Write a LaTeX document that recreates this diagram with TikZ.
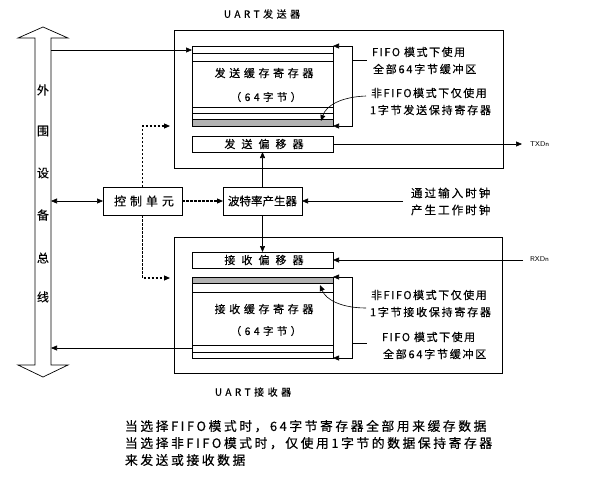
\documentclass[tikz,border=0pt]{standalone}
\usepackage{fontspec}
\newfontfamily\cjk[FakeBold=0.35]{Noto Sans CJK SC}
\usetikzlibrary{arrows.meta}
\tikzset{
  box/.style={draw, line width=0.8pt, inner sep=0pt, outer sep=0pt, anchor=north west},
  arr/.style={-{Triangle[length=6pt,width=5pt]}, line width=0.6pt},
  arrboth/.style={{Triangle[length=6pt,width=5pt]}-{Triangle[length=6pt,width=5pt]}, line width=0.6pt},
  dasharr/.style={-{Triangle[length=6pt,width=5pt]}, line width=1.1pt, dash pattern=on 2.5pt off 1.5pt},
  thin/.style={line width=0.6pt},
  lbl/.style={inner sep=0pt, outer sep=0pt},
}
\newcommand{\ls}[1]{\addfontfeature{LetterSpace=#1}}
\begin{document}
\begin{tikzpicture}[x=1pt,y=-1pt]
\useasboundingbox (0,0) rectangle (591,485);
% ---------- peripheral bus (hollow double arrow)
\draw[line width=0.7pt] (43,27) -- (68,38) -- (51,38) -- (51,365) -- (68,365) -- (43,377)
   -- (18,365) -- (35,365) -- (35,38) -- (18,38) -- cycle;
\foreach \t/\y [count=\i] in {外/90,围/131,设/173,备/215,总/258,线/297}
  \node[lbl, font=\cjk\fontsize{12}{12}\selectfont] (bus\i) at (43,\y) {\t};
\coordinate (busA) at (51,50);
\coordinate (busB) at (51,201);
\coordinate (busC) at (51,348);

% ---------- transmitter
\node[box, minimum width=329pt, minimum height=138pt] (txbox) at (174,30) {};
\node[lbl, font=\cjk\fontsize{10}{10}\selectfont\ls{35}] (txlbl) at (262,14) {UART发送器};
\node[box, minimum width=141pt, minimum height=80pt] (txbuf) at (192,46) {};
\draw[thin] (192,53) -- (333,53) (192,61) -- (333,61) (192,107) -- (333,107) (192,113) -- (333,113);
\draw[thin, fill=black!30] (192,119) rectangle (333,126);
\node[lbl, font=\cjk\fontsize{11}{11}\selectfont\ls{33}] (txt1) at (264,73) {发送缓存寄存器};
\node[lbl, font=\cjk\fontsize{10.5}{10.5}\selectfont\ls{32}] (txt2) at (266,97) {（64字节）};
\node[box, minimum width=141pt, minimum height=16pt] (txshift) at (192,136) {};
\node[lbl, font=\cjk\fontsize{11}{11}\selectfont\ls{55}] (txt3) at (264,144) {发送偏移器};
% bracket
\draw[arrboth] (txbuf.north east) -- ++(19,0) |- (txbuf.south east);
\draw[thin] (352,60) -- (367,60);
\node[lbl, anchor=west, font=\cjk\fontsize{11}{11}\selectfont\ls{14}] (txn1) at (372,52) {FIFO\hspace{4pt}模式下使用};
\node[lbl, anchor=west, font=\cjk\fontsize{11}{11}\selectfont\ls{16}] (txn2) at (373,69) {全部64字节缓冲区};
\node[lbl, anchor=west, font=\cjk\fontsize{11}{11}\selectfont\ls{14}] (txn3) at (371,93) {非FIFO模式下仅使用};
\node[lbl, anchor=west, font=\cjk\fontsize{11}{11}\selectfont\ls{16}] (txn4) at (370,110) {1字节发送保持寄存器};
\coordinate (txc) at (366,96);
\draw[arr] (txc) .. controls (340,97) and (326,106) .. (321,121);
% TXDn
\coordinate (txd) at (522,144);
\draw[arr] (txshift.east) -- (txd);
\node[lbl, anchor=west, font=\sffamily\fontsize{7}{7}\selectfont\ls{40}] (txdl) at (530,144) {TXDn};

% ---------- control and baud
\node[box, minimum width=79pt, minimum height=28pt] (ctrl) at (103,187) {};
\node[lbl, font=\cjk\fontsize{12}{12}\selectfont\ls{33}] (ctrlt) at (144,201) {控制单元};
\node[box, minimum width=79pt, minimum height=28pt] (baud) at (223,187) {};
\node[lbl, font=\cjk\fontsize{11.5}{11.5}\selectfont] (baudt) at (262.5,201) {波特率产生器};
\draw[arrboth] (busB) -- (ctrl.west);
\draw[dasharr] (ctrl.east) -- (baud.west);
\coordinate (dt) at (170,126);
\coordinate (db) at (170,278);
\draw[dasharr] (ctrl.north) |- (dt);
\draw[dasharr] (ctrl.south) |- (db);
\draw[arr] (baud.north) -- (baud.north |- txshift.south);
\node[lbl, anchor=west, font=\cjk\fontsize{11.5}{11.5}\selectfont\ls{18}] (clk1) at (411,193) {通过输入时钟};
\node[lbl, anchor=west, font=\cjk\fontsize{11.5}{11.5}\selectfont\ls{18}] (clk2) at (411,210) {产生工作时钟};
\coordinate (clk) at (403,201);
\draw[arr] (clk) -- (baud.east);

% ---------- receiver
\node[box, minimum width=328pt, minimum height=136pt] (rxbox) at (174,237) {};
\node[lbl, font=\cjk\fontsize{10}{10}\selectfont\ls{35}] (rxlbl) at (253,392) {UART接收器};
\node[box, minimum width=141pt, minimum height=16pt] (rxshift) at (192,252) {};
\node[lbl, font=\cjk\fontsize{11}{11}\selectfont\ls{55}] (rxt3) at (264,260) {接收偏移器};
\draw[arr] (baud.south) -- (baud.south |- rxshift.north);
\coordinate (rxd) at (523,260);
\draw[arr] (rxd) -- (rxshift.east);
\node[lbl, anchor=west, font=\sffamily\fontsize{7}{7}\selectfont\ls{40}] (rxdl) at (530,259) {RXDn};
\node[box, minimum width=141pt, minimum height=81pt] (rxbuf) at (192,277) {};
\draw[thin, fill=black!30] (192,277) rectangle (333,283);
\draw[thin] (192,292) -- (333,292) (192,345) -- (333,345) (192,352) -- (333,352);
\node[lbl, font=\cjk\fontsize{11}{11}\selectfont\ls{33}] (rxt1) at (264,309) {接收缓存寄存器};
\node[lbl, font=\cjk\fontsize{10.5}{10.5}\selectfont\ls{32}] (rxt2) at (266,331) {（64字节）};
\draw[arrboth] (rxbuf.north east) -- ++(19,0) |- (rxbuf.south east);
\draw[thin] (352,343) -- (367,343);
\node[lbl, anchor=west, font=\cjk\fontsize{11}{11}\selectfont\ls{14}] (rxn1) at (371,295) {非FIFO模式下仅使用};
\node[lbl, anchor=west, font=\cjk\fontsize{11}{11}\selectfont\ls{16}] (rxn2) at (370,312) {1字节接收保持寄存器};
\node[lbl, anchor=west, font=\cjk\fontsize{11}{11}\selectfont\ls{14}] (rxn3) at (382,337) {FIFO\hspace{4pt}模式下使用};
\node[lbl, anchor=west, font=\cjk\fontsize{11}{11}\selectfont\ls{16}] (rxn4) at (383,354) {全部64字节缓冲区};
\coordinate (rxc) at (366,308);
\draw[arr] (rxc) .. controls (342,308) and (326,300) .. (320,285);

% ---------- bus links
\draw[arr] (busA) -- (busA -| txbuf.west);
\draw[arr] (busC -| rxbuf.west) -- (busC);

% ---------- note
\node[lbl, anchor=north west, align=left, font=\cjk\fontsize{12.8}{17}\selectfont\ls{20}] (note) at (125,420)
  {当选择FIFO模式时，64字节寄存器全部用来缓存数据\\当选择非FIFO模式时，仅使用1字节的数据保持寄存器\\来发送或接收数据};
\end{tikzpicture}
\end{document}
